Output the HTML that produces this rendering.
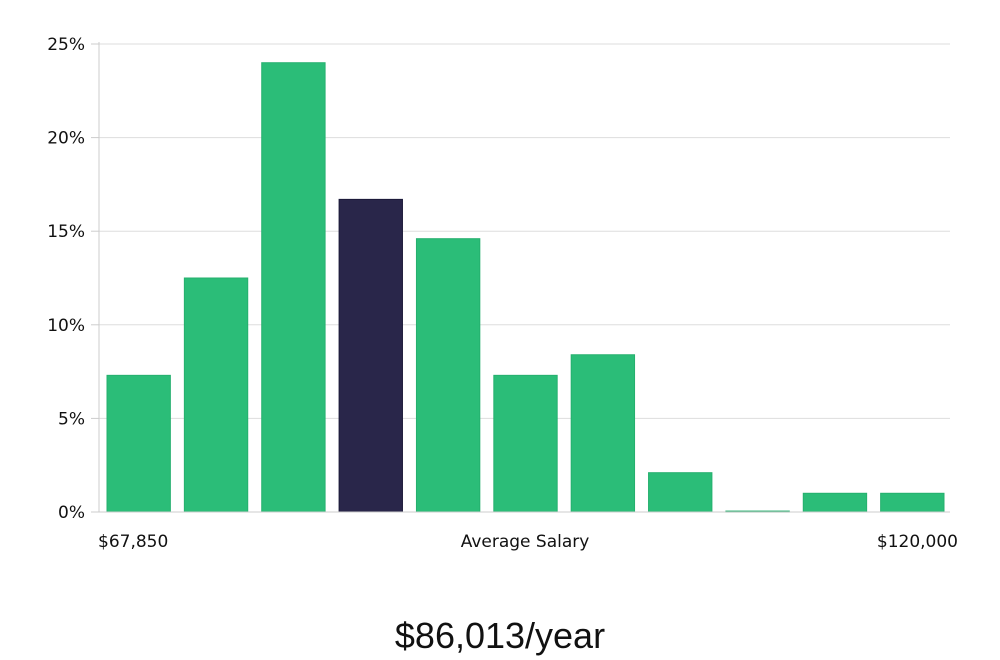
<!DOCTYPE html>
<html><head><meta charset="utf-8"><style>
body{margin:0;background:#fff;width:1000px;height:660px;overflow:hidden}
svg{display:block}
text{font-family:"DejaVu Sans","Liberation Sans",sans-serif;fill:#111}
</style></head><body>
<svg id="chart" width="1000" height="660" viewBox="0 0 1000 660">
<g id="grid"></g>
<g id="yaxis"></g>
<g id="bars"></g>
<line x1="99" y1="512" x2="950" y2="512" stroke="#ccc" stroke-width="1"/>
<text x="98" y="547" font-size="17">$67,850</text>
<text x="525" y="547" font-size="17" text-anchor="middle">Average Salary</text>
<text x="958" y="547" font-size="17" text-anchor="end">$120,000</text>
<text x="500" y="648" font-size="36" font-weight="300" text-anchor="middle" style="font-family:'Liberation Sans',sans-serif">$86,013/year</text>
</svg>
<script>
const values=[7.3,12.5,24.0,16.7,14.6,7.3,8.4,2.1,0.05,1.0,1.0];
const highlight=[false,false,false,true,false,false,false,false,false,false,false];
const yTicks=[0,5,10,15,20,25];
const yTickLabels=["0%","5%","10%","15%","20%","25%"];
const NS="http://www.w3.org/2000/svg";
const x0=99,x1=950,yB=512,yT=44,yMax=25;
const y=v=>yB-(v/yMax)*(yB-yT);
const step=(x1-x0)/values.length;
const xb=i=>x0+i*step+8;
const bw=step-14;
const grid=document.getElementById('grid'),ya=document.getElementById('yaxis'),bars=document.getElementById('bars');
function mk(t,a){const e=document.createElementNS(NS,t);for(const k in a)e.setAttribute(k,a[k]);return e;}
const vline=mk('line',{x1:x0,y1:yT-2,x2:x0,y2:yB,stroke:'#ccc'});


ya.appendChild(vline);
yTicks.forEach((t,i)=>{
 const g=mk('line',{x1:x0,y1:y(t),x2:x1,y2:y(t),stroke:'#ddd'});
 
 
 grid.appendChild(g);
 const tk=mk('line',{x1:x0-8,y1:y(t),x2:x0,y2:y(t),stroke:'#ccc'});
 
 
 ya.appendChild(tk);
 const l=mk('text',{x:85,y:y(t)+6,'font-size':17,'text-anchor':'end'});
 l.textContent=yTickLabels[i];
 
 
 ya.appendChild(l);
});
values.forEach((v,i)=>{
 const hi=highlight[i];
 const r=mk('rect',{x:xb(i),y:y(v),width:bw,height:Math.max(yB-y(v),1),fill:hi?'#29264a':'#2bbd78',stroke:hi?'#1a1838':'#25b06e','stroke-width':1});
 
 
 bars.appendChild(r);
});
</script>
</body></html>
